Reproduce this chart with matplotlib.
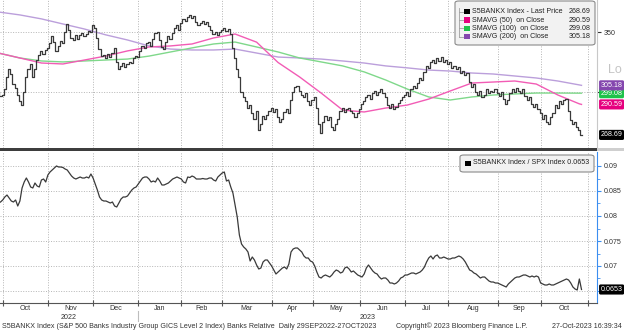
import matplotlib
matplotlib.use("Agg")
import matplotlib.pyplot as plt
import matplotlib.transforms as mtransforms
from matplotlib.patches import FancyBboxPatch, Rectangle
from matplotlib.lines import Line2D
from matplotlib.ticker import FixedLocator, FixedFormatter, NullLocator
import numpy as np
import pandas as pd

plt.rcParams['font.family'] = ['Liberation Sans', 'DejaVu Sans']

W, H = 624, 332
FS = 5.1

# US market holidays inside the window
holidays = ['2022-11-24', '2022-12-26', '2023-01-02', '2023-01-16', '2023-02-20',
            '2023-04-07', '2023-05-29', '2023-06-19', '2023-07-04', '2023-09-04']

# S5BANKX daily close, 29 Sep 2022 .. 27 Oct 2023 (one row per month)
close = [
    300, 297,
    298, 302, 312, 318, 314, 306, 303, 298, 293, 290, 300, 312, 318, 322, 312, 318, 326, 330, 333, 331, 334,
    336, 340, 346, 341, 333, 338, 342, 340, 350, 357, 352, 345, 343, 347, 344, 347, 349, 346, 348, 351, 350,
    356, 354, 345, 335, 329, 330, 327, 331, 328, 332, 336, 324, 318, 321, 323, 320, 322, 324, 323, 327, 329,
    328, 333, 338, 336, 340, 341, 338, 344, 349, 350, 343, 337, 335, 341, 346, 344, 349, 354, 356, 352,
    358, 362, 360, 364, 366, 363, 365, 359, 356, 358, 360, 357, 359, 355, 352, 348, 350, 347, 350,
    352, 354, 351, 353, 348, 336, 327, 318, 312, 300, 296, 293, 288, 290, 284, 280, 286, 272, 276, 282, 280, 283, 286,
    288, 285, 287, 281, 278, 280, 285, 287, 284, 294, 300, 304, 305, 301, 298, 296, 299, 293, 290,
    294, 296, 288, 276, 270, 278, 282, 279, 281, 274, 272, 276, 280, 286, 288, 285, 287, 288, 286, 284, 281, 284,
    287, 291, 293, 296, 298, 295, 299, 301, 298, 300, 302, 299, 296, 290, 288, 291, 287, 289, 292, 294, 296,
    298, 300, 297, 302, 305, 303, 307, 311, 309, 316, 321, 319, 324, 326, 323, 327, 325, 328, 324, 326,
    322, 324, 319, 321, 318, 320, 315, 317, 313, 315, 308, 304, 306, 300, 298, 301, 296, 298, 302, 299, 301, 300, 302,
    299, 297, 300, 295, 291, 294, 299, 302, 300, 303, 301, 299, 302, 297, 294, 296, 291, 289, 291, 287,
    284, 280, 283, 278, 276, 281, 284, 290, 288, 293, 291, 294, 295, 286, 279, 276, 278, 274, 272, 268.69,
]

# moving averages, sampled every 10th trading day plus the last day
ma_step = 10
sma50 = [331.6, 327.4, 323.2, 322.4, 325.7, 329.1, 333.4, 336.8, 337.7, 339.4, 344.7, 348.2, 341.0, 323.6,
         311.8, 299.2, 286.4, 285.0, 287.9, 290.1, 294.6, 300.8, 307.0, 307.8, 308.6, 306.2, 297.7, 291.0, 290.59]
sma100 = [331.6, 327.4, 324.9, 324.1, 324.9, 325.7, 326.5, 329.0, 332.5, 336.0, 339.4, 341.1, 336.8, 332.5,
          327.4, 324.1, 320.8, 315.9, 309.4, 302.3, 296.2, 293.9, 296.2, 297.7, 298.5, 299.2, 299.2, 299.1, 299.08]
sma200 = [368.5, 365.7, 362.0, 357.3, 352.7, 347.4, 342.9, 337.7, 335.0, 334.2, 334.2, 335.0, 331.6, 328.2,
          327.4, 326.5, 324.9, 323.2, 320.8, 319.2, 317.4, 316.6, 315.0, 314.2, 312.6, 311.0, 308.6, 305.5, 305.18]

# S5BANKX / SPX ratio, same days
ratio = [
    .0826, .0828,
    .0832, .0838, .0842, .0836, .0830, .0828, .0832, .0820, .0830, .0856, .0868, .0876, .0868, .0858, .0856, .0866, .0860, .0858, .0872, .0874, .0868,
    .0882, .0888, .0892, .0896, .0900, .0898, .0898, .0897, .0894, .0892, .0886, .0880, .0876, .0874, .0876, .0878, .0876, .0876, .0878, .0876, .0884,
    .0876, .0864, .0852, .0838, .0832, .0830, .0830, .0828, .0826, .0828, .0820, .0818, .0826, .0834, .0838, .0838, .0840, .0846, .0852, .0856, .0858,
    .0864, .0870, .0876, .0878, .0878, .0874, .0868, .0870, .0868, .0876, .0870, .0862, .0862, .0864, .0866, .0870, .0874, .0876, .0878, .0876,
    .0874, .0868, .0866, .0878, .0877, .0880, .0878, .0874, .0874, .0874, .0875, .0874, .0874, .0876, .0876, .0872, .0870, .0878, .0882,
    .0886, .0888, .0870, .0872, .0858, .0846, .0822, .0798, .0762, .0744, .0738, .0734, .0728, .0710, .0718, .0712, .0702, .0694, .0696, .0708, .0712, .0712, .0706,
    .0700, .0692, .0684, .0688, .0692, .0696, .0698, .0694, .0704, .0728, .0734, .0736, .0736, .0732, .0728, .0720, .0716, .0716, .0710,
    .0708, .0700, .0688, .0678, .0676, .0680, .0682, .0680, .0678, .0682, .0688, .0692, .0690, .0686, .0688, .0696, .0698, .0694, .0688, .0690, .0686, .0682,
    .0680, .0678, .0684, .0696, .0702, .0696, .0690, .0686, .0684, .0678, .0674, .0676, .0676, .0672, .0666, .0666, .0664, .0666, .0670, .0676, .0678,
    .0682, .0682, .0684, .0686, .0686, .0684, .0686, .0688, .0692, .0698, .0708, .0716, .0720, .0714, .0720, .0722, .0716, .0716, .0718, .0716,
    .0714, .0714, .0716, .0716, .0718, .0720, .0718, .0714, .0708, .0700, .0692, .0690, .0686, .0684, .0680, .0676, .0678, .0678, .0674, .0670, .0668, .0668, .0666,
    .0666, .0664, .0662, .0660, .0658, .0664, .0668, .0672, .0676, .0678, .0678, .0680, .0682, .0682, .0680, .0678, .0680, .0678, .0680, .0678,
    .0666, .0664, .0662, .0662, .0664, .0662, .0662, .0664, .0666, .0668, .0670, .0672, .0674, .0672, .0666, .0658, .0654, .0652, .0674, .0653,
]

price_ticks = [300, 350]
price_ticklabels = ['', '350']
ratio_ticks = [0.065, 0.07, 0.075, 0.08, 0.085, 0.09]
ratio_ticklabels = ['', '0.07', '0.075', '0.08', '0.085', '0.09']

legend_top = [('S5BANKX Index - Last Price', '268.69', '#000000'),
              ('SMAVG (50)  on Close', '290.59', '#e6007e'),
              ('SMAVG (100)  on Close', '299.08', '#1ec24a'),
              ('SMAVG (200)  on Close', '305.18', '#8446ae')]
legend_bottom = 'S5BANKX Index / SPX Index 0.0653'
footer = ['S5BANKX Index (S&P 500 Banks Industry Group GICS Level 2 Index) Banks Relative  Daily 29SEP2022-27OCT2023',
          'Copyright\u00a9 2023 Bloomberg Finance L.P.',
          '27-Oct-2023 16:39:34']

# trading-day calendar, run a few days past the data so the axis reaches November
bday = pd.offsets.CustomBusinessDay(holidays=holidays)
days = pd.date_range('2022-09-29', '2023-11-03', freq=bday)
n = len(close)
x = np.arange(n)
month_start = [int(np.searchsorted(days, d)) for d in pd.date_range('2022-10-01', '2023-11-01', freq='MS')]
x_lo, x_hi = 0.75, 278.2

GRID = dict(color='#b5b5b5', lw=0.7, linestyle=(0, (1, 1.6)))


def fig_box(x0, y0, x1, y1):
    return [x0 / W, 1 - y1 / H, (x1 - x0) / W, (y1 - y0) / H]


fig = plt.figure(figsize=(W / 100, H / 100), dpi=100)
fig.patch.set_facecolor('white')
ax1 = fig.add_axes(fig_box(0, 0, 597, 148))
ax2 = fig.add_axes(fig_box(0, 152, 597, 303))

# --- price panel ---
ax1.set_yscale('log')
ma_x = list(range(0, n, ma_step)) + [n - 1]
ax1.plot(ma_x, sma200, color='#bb9fdb', lw=1.0, zorder=2)
ax1.plot(ma_x, sma100, color='#7fd88a', lw=1.0, zorder=2)
ax1.plot(ma_x, sma50, color='#f25cb5', lw=1.0, zorder=2)
ax1.plot(x, close, drawstyle='steps-mid', color='#3a3a3a', lw=0.9, zorder=3)
ax1.set_xlim(x_lo, x_hi)
ax1.set_ylim(259.8, 380.0)
ax1.yaxis.set_major_locator(FixedLocator(price_ticks))
ax1.yaxis.set_major_formatter(FixedFormatter(price_ticklabels))
ax1.yaxis.set_minor_locator(NullLocator())
ax1.yaxis.tick_right()
ax1.tick_params(axis='y', length=3, width=0.8, color='#333333', pad=2, labelsize=FS, labelcolor='#333333')
ax1.set_xticks(month_start)
ax1.tick_params(axis='x', length=0, labelbottom=False)
for s in ['top', 'left', 'bottom']:
    ax1.spines[s].set_visible(False)
ax1.spines['right'].set_color('#c8c8c8')
ax1.grid(True, **GRID)
ax1.set_axisbelow(True)

# --- ratio panel ---
ax2.plot(x, ratio, color='#3a3a3a', lw=0.9, zorder=3)
ax2.set_xlim(x_lo, x_hi)
ax2.set_ylim(0.0626, 0.0928)
ax2.yaxis.set_major_locator(FixedLocator(ratio_ticks))
ax2.yaxis.set_major_formatter(FixedFormatter(ratio_ticklabels))
ax2.yaxis.set_minor_locator(FixedLocator([0.0675, 0.0725, 0.0775, 0.0825, 0.0875]))
ax2.yaxis.tick_right()
ax2.tick_params(axis='y', which='major', length=3, width=0.8, color='#3b8ef0', pad=2,
                labelsize=FS, labelcolor='#333333')
ax2.tick_params(axis='y', which='minor', length=2, width=0.6, color='#3b8ef0')
ax2.set_xticks(month_start)
ax2.set_xticklabels([])
ax2.tick_params(axis='x', direction='inout', length=4, width=0.8, color='#555555')
for s in ['top', 'left']:
    ax2.spines[s].set_visible(False)
ax2.spines['right'].set_color('#3b8ef0')
ax2.spines['bottom'].set_color('#555555')
ax2.grid(True, **GRID)
ax2.set_axisbelow(True)


def tag(ax, value, text, color):
    ax.annotate(text, xy=(1, value), xycoords=('axes fraction', 'data'),
                xytext=(2.6, 0), textcoords='offset points', ha='left', va='center',
                fontsize=FS, color='white', annotation_clip=False, zorder=10,
                bbox=dict(boxstyle='round,pad=0.22', fc=color, ec='none'))


for (_, val, col) in legend_top:
    tag(ax1, float(val), val, col)
tag(ax2, ratio[-1], '%.4f' % ratio[-1], '#000000')

# panel separator
fig.patches.append(Rectangle((0, 1 - 151 / H), 597 / W, 3 / H, transform=fig.transFigure,
                             fc='#3d3d3d', ec='none', zorder=5))
fig.patches.append(Rectangle((597 / W, 1 - 151 / H), 27 / W, 3 / H, transform=fig.transFigure,
                             fc='#cfcfcf', ec='none', zorder=5))
fig.text(608 / W, 1 - 70 / H, 'Lo', fontsize=9, color='#c4c4c4', ha='left', va='center')

# legends
fig.patches.append(FancyBboxPatch((455 / W, 1 - 45 / H), 140 / W, 44 / H,
                                  boxstyle='round,pad=0,rounding_size=0.006', transform=fig.transFigure,
                                  fc='#f2f2f2', ec='#8a8a8a', lw=0.8, zorder=6))
fig.lines.append(Line2D([459 / W, 459 / W], [1 - 8 / H, 1 - 37 / H], transform=fig.transFigure,
                        color='#a0a0a0', lw=0.6, zorder=7))
for i, (name, val, col) in enumerate(legend_top):
    yc = 1 - (11.7 + 8.35 * i) / H
    fig.lines.append(Line2D([459 / W, 463 / W], [yc, yc], transform=fig.transFigure,
                            color='#a0a0a0', lw=0.6, zorder=7))
    fig.patches.append(Rectangle((464 / W, yc - 2.7 / H), 5.5 / W, 5.5 / H, transform=fig.transFigure,
                                 fc=col, ec='none', zorder=7))
    fig.text(472 / W, yc, name, fontsize=FS, color='#222222', ha='left', va='center', zorder=8)
    fig.text(591 / W, yc, val, fontsize=FS, color='#222222', ha='right', va='center', zorder=8)

fig.patches.append(FancyBboxPatch((460 / W, 1 - 172 / H), 134 / W, 17 / H,
                                  boxstyle='round,pad=0,rounding_size=0.006', transform=fig.transFigure,
                                  fc='#f2f2f2', ec='#8a8a8a', lw=0.8, zorder=6))
fig.patches.append(Rectangle((465 / W, 1 - 166 / H), 5.5 / W, 5.5 / H, transform=fig.transFigure,
                             fc='#000000', ec='none', zorder=7))
fig.text(473 / W, 1 - 163 / H, legend_bottom, fontsize=FS, color='#222222', ha='left', va='center', zorder=8)

# month and year labels under the time axis
tr = mtransforms.blended_transform_factory(ax2.transData, fig.transFigure)
edges = month_start
for a, b in zip(edges[:-1], edges[1:]):
    ax2.text((a + b) / 2, 1 - 309 / H, days[a].strftime('%b'), transform=tr, fontsize=FS,
             color='#333333', ha='center', va='center', clip_on=False)
jan = month_start[3]
ax2.text((x_lo + jan) / 2, 1 - 317.5 / H, '2022', transform=tr, fontsize=FS, color='#333333',
         ha='center', va='center', clip_on=False)
ax2.text((jan + x_hi) / 2, 1 - 317.5 / H, '2023', transform=tr, fontsize=FS, color='#333333',
         ha='center', va='center', clip_on=False)
ax2.plot([jan, jan], [1 - 311 / H, 1 - 321 / H], transform=tr, color='#bdbdbd', lw=0.8, clip_on=False)

# footer
fig.text(2 / W, 1 - 326 / H, footer[0], fontsize=FS, color='#333333', ha='left', va='center')
fig.text(396 / W, 1 - 326 / H, footer[1], fontsize=FS, color='#333333', ha='left', va='center')
fig.text(622 / W, 1 - 326 / H, footer[2], fontsize=FS, color='#333333', ha='right', va='center')

fig.savefig('out.png', dpi=100, facecolor='white')
